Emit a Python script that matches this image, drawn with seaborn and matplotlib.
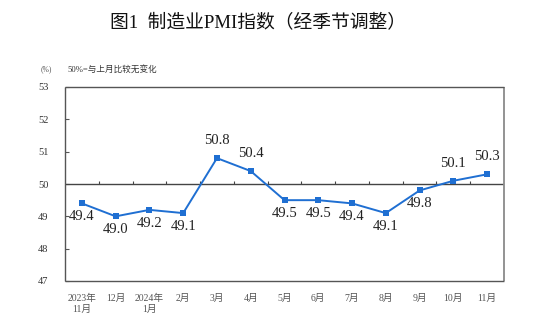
import numpy as np
import pandas as pd
import matplotlib
matplotlib.use("Agg")
import matplotlib.pyplot as plt
import seaborn as sns

months = ["2023年\n11月", "12月", "2024年\n1月", "2月", "3月", "4月", "5月",
          "6月", "7月", "8月", "9月", "10月", "11月"]
pmi = [49.4, 49.0, 49.2, 49.1, 50.8, 50.4, 49.5, 49.5, 49.4, 49.1, 49.8, 50.1, 50.3]
label_above = [False, False, False, False, True, True, False, False, False, False, False, True, True]
yticks = [47, 48, 49, 50, 51, 52, 53]

sns.set_theme(style="white")
plt.rcParams['font.family'] = ['Liberation Serif', 'Noto Sans CJK SC', 'DejaVu Sans']

fig = plt.figure(figsize=(5.54, 3.29), dpi=100)
ax = fig.add_axes([65/554, (329-281)/329, (504-65)/554, (281-87)/329])

df = pd.DataFrame({"x": np.arange(len(pmi)), "pmi": pmi})
color = "#1f6fd2"
sns.lineplot(data=df, x="x", y="pmi", ax=ax, color=color, marker="s",
             markersize=4.5, markeredgewidth=0, linewidth=1.4)

ax.set_xlim(-0.5, len(pmi) - 0.5)
ax.set_ylim(47, 53)
ax.set_yticks(yticks)
ax.set_yticklabels([str(v) for v in yticks], fontsize=7.5, color="#333333")
ax.set_xticks(df["x"])
ax.set_xticklabels(months, fontsize=7, color="#555555", linespacing=1.3)
ax.tick_params(axis="x", length=0, pad=9)
ax.tick_params(axis="y", direction="in", length=3, width=0.8, color="#555555", pad=12, left=True)
ax.set_xlabel("")
ax.set_ylabel("")

for s in ax.spines.values():
    s.set_color("#555555")
    s.set_linewidth(1.0)
    s.set_capstyle("butt")
ax.spines["right"].set_color("#8a8a8a")
ax.spines["right"].set_linewidth(1.3)

# baseline at 50 with tick marks between categories
ax.axhline(50, color="#444444", linewidth=1.0, zorder=1)
bounds = np.arange(len(pmi) - 1) + 0.5
ax.vlines(bounds, 50, 50 + 0.09, color="#444444", linewidth=0.8, zorder=1)

for i, (v, up) in enumerate(zip(pmi, label_above)):
    if up:
        ax.annotate(f"{v:.1f}", (i, v), xytext=(0, 8), textcoords="offset points",
                    ha="center", va="bottom", fontsize=10.5, color="#222222")
    else:
        ax.annotate(f"{v:.1f}", (i, v), xytext=(0, -5), textcoords="offset points",
                    ha="center", va="top", fontsize=10.5, color="#222222")

fig.text(258/554, 1 - 22/329, "图1  制造业PMI指数（经季节调整）", ha="center", va="center",
         fontsize=13.5, color="#111111",
         family=['Liberation Serif', 'Noto Sans CJK SC'])
fig.text(46/554, 1 - 69/329, "(%)", ha="center", va="center", fontsize=5.5, color="#555555")
fig.text(67/554, 1 - 69/329, "50%=与上月比较无变化", ha="left", va="center", fontsize=6.2,
         color="#333333")

fig.savefig("out.png", dpi=100, facecolor="white")
